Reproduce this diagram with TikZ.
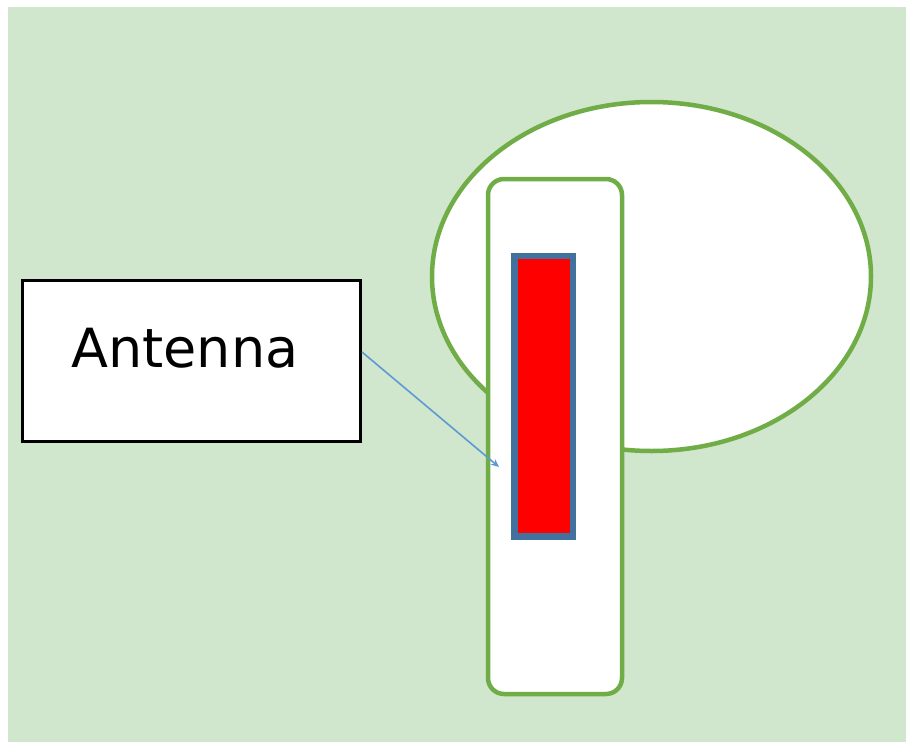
\documentclass[tikz,border=0pt]{standalone}
\usepackage{fontspec}
\setmainfont{DejaVu Sans}
\usetikzlibrary{arrows.meta}
\definecolor{bggreen}{RGB}{208,230,205}
\definecolor{edgegreen}{RGB}{112,173,71}
\definecolor{edgeblue}{RGB}{65,113,156}
\definecolor{arrowblue}{RGB}{91,155,213}
\tikzset{
  greenline/.style={draw=edgegreen, line width=4.5pt, fill=white},
  antbox/.style={draw=edgeblue, line width=6.5pt, fill=red},
  labelbox/.style={draw=black, line width=3pt, fill=white, inner sep=0pt},
  pointer/.style={draw=arrowblue, line width=1.6pt, -{Stealth[length=8pt,width=7pt]}}
}
\begin{document}
\begin{tikzpicture}[x=1pt,y=-1pt]
\useasboundingbox (0,0) rectangle (906,742);
\fill[bggreen] (8,7) rectangle (906,742);
% ellipse
\path[greenline] (651.5,276.5) ellipse [x radius=219.5, y radius=174.5];
% handle
\path[greenline, rounded corners=16pt] (488,179) rectangle (622,694);
% antenna
\node[antbox, minimum width=58.5pt, minimum height=280.5pt, inner sep=0pt] (ant) at (543.5,396.25) {};
% label box
\node[labelbox, minimum width=338pt, minimum height=161pt] (box) at (191.5,361) {};
\node[anchor=base, inner sep=0pt, font=\fontsize{54pt}{60pt}\selectfont] (lbl) at (185,367) {Antenna};
\coordinate (start) at (362,352);
\coordinate (tip) at (499,467);
\draw[pointer] (start) -- (tip);
\end{tikzpicture}
\end{document}
